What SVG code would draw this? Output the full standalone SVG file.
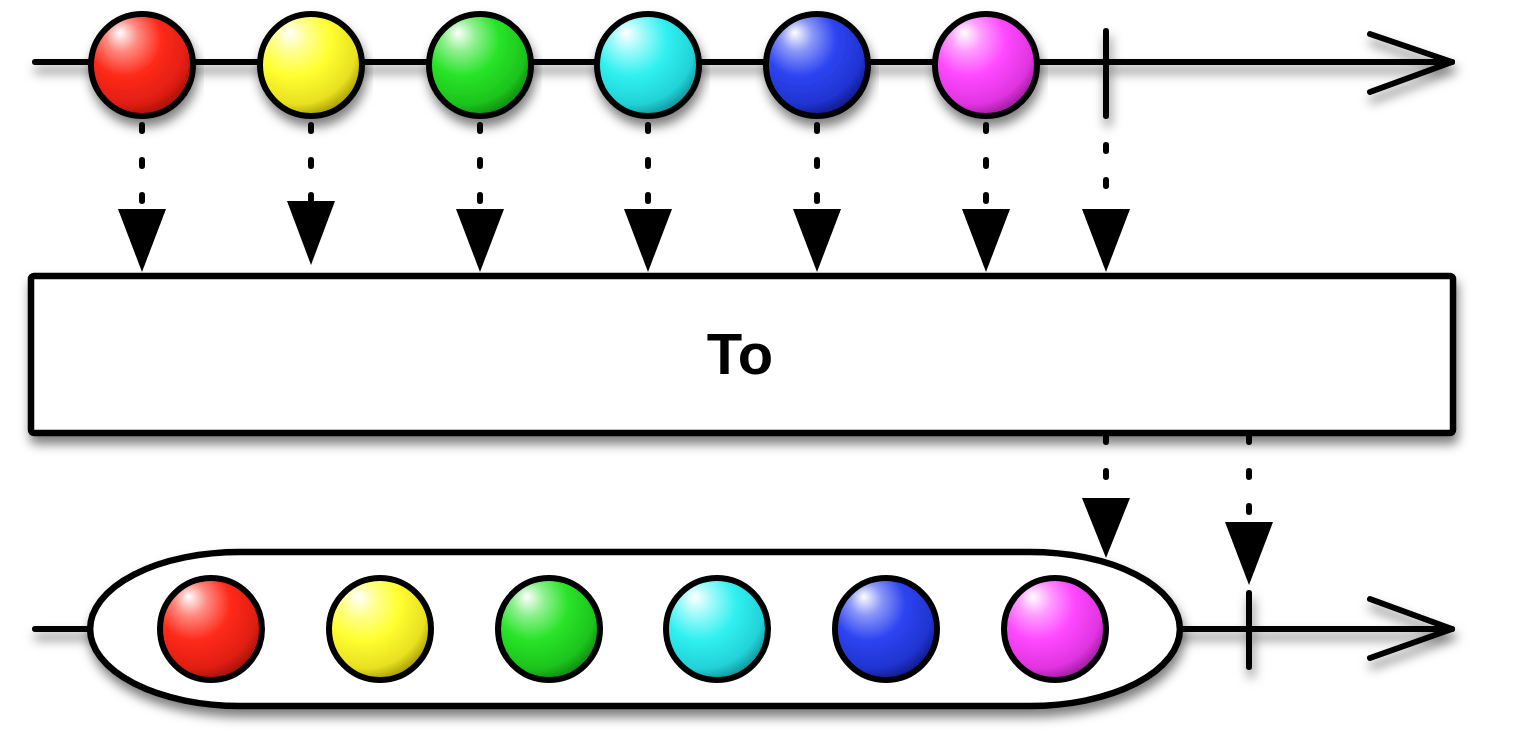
<svg xmlns="http://www.w3.org/2000/svg" width="1514" height="736" viewBox="0 0 1514 736">
<style>
.ln{stroke:#000;stroke-width:6;fill:none;stroke-linecap:round;stroke-linejoin:round}
.ball{stroke:#000;stroke-width:6}
.dash{stroke:#000;stroke-width:6;fill:none;stroke-linecap:round;stroke-dasharray:6 29}
.head{fill:#000}
.box{fill:#fff;stroke:#000;stroke-width:6.5}
.lbl{font-family:"Liberation Sans",Arial,sans-serif;font-weight:bold;font-size:58px;fill:#000}
</style>
<defs>
<filter id="sh" x="-10%" y="-30%" width="120%" height="180%">
<feDropShadow dx="2" dy="8" stdDeviation="5.5" flood-color="#000" flood-opacity="0.5"/>
</filter>
<radialGradient id="gRed" cx="0.38" cy="0.32" r="0.72" fx="0.28" fy="0.18">
<stop offset="0" stop-color="#ffffff"/><stop offset="0.22" stop-color="#ff8a80"/><stop offset="0.5" stop-color="#ff2a1a"/><stop offset="0.82" stop-color="#e01e12"/><stop offset="1" stop-color="#981008"/>
</radialGradient>
<radialGradient id="gYel" cx="0.38" cy="0.32" r="0.72" fx="0.28" fy="0.18">
<stop offset="0" stop-color="#ffffff"/><stop offset="0.22" stop-color="#ffff90"/><stop offset="0.5" stop-color="#ffff30"/><stop offset="0.82" stop-color="#e8e020"/><stop offset="1" stop-color="#9a9000"/>
</radialGradient>
<radialGradient id="gGrn" cx="0.38" cy="0.32" r="0.72" fx="0.28" fy="0.18">
<stop offset="0" stop-color="#ffffff"/><stop offset="0.22" stop-color="#8ef08e"/><stop offset="0.5" stop-color="#28e428"/><stop offset="0.82" stop-color="#1cc41c"/><stop offset="1" stop-color="#0e800e"/>
</radialGradient>
<radialGradient id="gCyn" cx="0.38" cy="0.32" r="0.72" fx="0.28" fy="0.18">
<stop offset="0" stop-color="#ffffff"/><stop offset="0.22" stop-color="#9cfafa"/><stop offset="0.5" stop-color="#30f0f0"/><stop offset="0.82" stop-color="#22d2d8"/><stop offset="1" stop-color="#108890"/>
</radialGradient>
<radialGradient id="gBlu" cx="0.38" cy="0.32" r="0.72" fx="0.28" fy="0.18">
<stop offset="0" stop-color="#ffffff"/><stop offset="0.22" stop-color="#8a96f8"/><stop offset="0.5" stop-color="#2d44f2"/><stop offset="0.82" stop-color="#2034d0"/><stop offset="1" stop-color="#0c1680"/>
</radialGradient>
<radialGradient id="gPnk" cx="0.38" cy="0.32" r="0.72" fx="0.28" fy="0.18">
<stop offset="0" stop-color="#ffffff"/><stop offset="0.22" stop-color="#ff9cff"/><stop offset="0.5" stop-color="#ff48ff"/><stop offset="0.82" stop-color="#e034e0"/><stop offset="1" stop-color="#901890"/>
</radialGradient>
</defs>
<rect width="1514" height="736" fill="#fff"/>

<g id="connectors">
<line class="dash" x1="142" y1="125" x2="142" y2="205"/>
<polygon class="head" points="118,209 166,209 142,272"/>
<line class="dash" x1="311" y1="125" x2="311" y2="200"/>
<polygon class="head" points="287,201 335,201 311,265"/>
<line class="dash" x1="480" y1="125" x2="480" y2="205"/>
<polygon class="head" points="456,209 504,209 480,272"/>
<line class="dash" x1="648" y1="125" x2="648" y2="205"/>
<polygon class="head" points="624,209 672,209 648,272"/>
<line class="dash" x1="817" y1="125" x2="817" y2="205"/>
<polygon class="head" points="793,209 841,209 817,272"/>
<line class="dash" x1="986" y1="125" x2="986" y2="205"/>
<polygon class="head" points="962,209 1010,209 986,272"/>
<line class="dash" x1="1106" y1="145" x2="1106" y2="205"/>
<polygon class="head" points="1082,209 1130,209 1106,272"/>
<line class="dash" x1="1106" y1="436" x2="1106" y2="490"/>
<polygon class="head" points="1082,498 1130,498 1106,558"/>
<line class="dash" x1="1249" y1="436" x2="1249" y2="515"/>
<polygon class="head" points="1225,522 1273,522 1249,585"/>
</g>

<g id="source-timeline" filter="url(#sh)">
<line class="ln" x1="35" y1="62" x2="1452" y2="62"/>
<polyline class="ln" points="1370,34 1452,62 1370,92"/>
<line class="ln" x1="1106" y1="31" x2="1106" y2="116"/>
</g>
<g id="src-red" filter="url(#sh)"><circle class="ball" cx="142" cy="65" r="51" fill="url(#gRed)"/></g>
<g id="src-yellow" filter="url(#sh)"><circle class="ball" cx="311" cy="65" r="51" fill="url(#gYel)"/></g>
<g id="src-green" filter="url(#sh)"><circle class="ball" cx="480" cy="65" r="51" fill="url(#gGrn)"/></g>
<g id="src-cyan" filter="url(#sh)"><circle class="ball" cx="648" cy="65" r="51" fill="url(#gCyn)"/></g>
<g id="src-blue" filter="url(#sh)"><circle class="ball" cx="817" cy="65" r="51" fill="url(#gBlu)"/></g>
<g id="src-pink" filter="url(#sh)"><circle class="ball" cx="986" cy="65" r="51" fill="url(#gPnk)"/></g>

<g id="operator">
<rect class="box" x="31" y="276" width="1422" height="157" rx="3" filter="url(#sh)"/>
<text class="lbl" x="740" y="374" text-anchor="middle">To</text>
</g>

<g id="result-timeline" filter="url(#sh)">
<line class="ln" x1="35" y1="629" x2="1452" y2="629"/>
<polyline class="ln" points="1370,599 1452,629 1370,658"/>
<line class="ln" x1="1249" y1="593" x2="1249" y2="667"/>
</g>
<g id="result-list">
<path d="M240 552 H1030 A150 77 0 0 1 1030 706 H240 A150 77 0 0 1 240 552 Z" fill="#fff" stroke="#000" stroke-width="6.5" filter="url(#sh)"/>
<circle class="ball" cx="211" cy="629" r="51" fill="url(#gRed)"/>
<circle class="ball" cx="380" cy="629" r="51" fill="url(#gYel)"/>
<circle class="ball" cx="549" cy="629" r="51" fill="url(#gGrn)"/>
<circle class="ball" cx="717" cy="629" r="51" fill="url(#gCyn)"/>
<circle class="ball" cx="886" cy="629" r="51" fill="url(#gBlu)"/>
<circle class="ball" cx="1055" cy="629" r="51" fill="url(#gPnk)"/>
</g>
</svg>
